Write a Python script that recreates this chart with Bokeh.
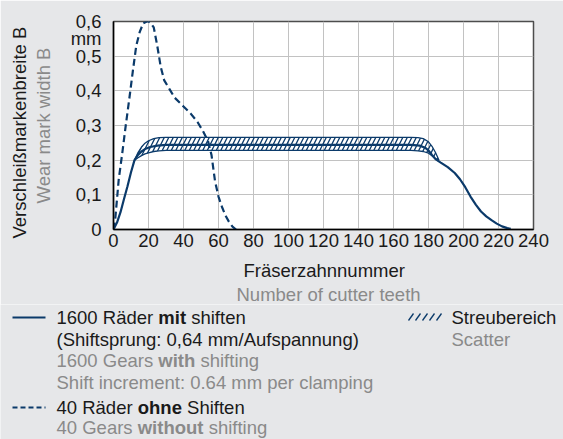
from bokeh.plotting import figure
from bokeh.models import Range1d, FixedTicker, Label, Title
from bokeh.layouts import column, row
from bokeh.embed import file_html
from bokeh.resources import INLINE

# ---------------- data ----------------
x_ticks = [0, 20, 40, 60, 80, 100, 120, 140, 160, 180, 200, 220, 240]
y_ticks = [0, 0.1, 0.2, 0.3, 0.4, 0.5, 0.55, 0.6]
y_tick_labels = ["0", "0,1", "0,2", "0,3", "0,4", "0,5", "mm", "0,6"]
grid_y = [0, 0.1, 0.2, 0.3, 0.4, 0.5, 0.6]

# 1600 gears with shifting (solid)
with_x = [0, 2, 4, 6, 8, 10, 12, 14, 16, 18, 21, 25, 30, 60, 100, 140, 170, 175,
          178, 180, 182, 184, 187, 191, 195, 198, 201, 204, 207, 210, 213, 216,
          219, 222, 225, 227]
with_y = [0, 0.02, 0.05, 0.088, 0.125, 0.165, 0.2, 0.215, 0.225, 0.232, 0.238,
          0.242, 0.244, 0.244, 0.244, 0.244, 0.244, 0.242, 0.236, 0.228, 0.215,
          0.203, 0.193, 0.18, 0.163, 0.145, 0.122, 0.095, 0.072, 0.052, 0.038,
          0.027, 0.017, 0.009, 0.004, 0.002]

# scatter band (Streubereich)
band_x = [12, 14, 16, 18, 20, 23, 26, 30, 60, 100, 140, 170, 174, 177, 180, 182, 184, 186]
band_upper = [0.2, 0.222, 0.238, 0.249, 0.256, 0.262, 0.265, 0.266, 0.266, 0.266,
              0.266, 0.266, 0.265, 0.262, 0.253, 0.24, 0.222, 0.2]
band_lower = [0.2, 0.207, 0.213, 0.218, 0.221, 0.225, 0.227, 0.228, 0.228, 0.228,
              0.228, 0.228, 0.227, 0.225, 0.22, 0.213, 0.205, 0.196]

# 40 gears without shifting (dashed)
without_x = [0, 1, 3, 5, 7, 9, 11, 13, 15, 17, 19, 20, 21, 23, 25, 27, 29, 32, 35,
             40, 44, 48, 51, 54, 56, 58, 60, 62, 64, 66, 68, 70]
without_y = [0, 0.03, 0.145, 0.22, 0.3, 0.376, 0.455, 0.53, 0.57, 0.595, 0.6, 0.6,
             0.597, 0.583, 0.53, 0.469, 0.43, 0.405, 0.38, 0.355, 0.335, 0.31,
             0.285, 0.255, 0.215, 0.14, 0.095, 0.065, 0.04, 0.022, 0.008, 0]

# ---------------- style ----------------
NAVY = "#0b3a6a"
BG = "#e6e7e9"
BLACK = "#1a1a1a"
GRAY = "#8a8a8a"
FONT = "Liberation Sans"
FSN = 18.5
FS = "%gpx" % FSN

p = figure(width=563, height=304, x_range=Range1d(0, 240), y_range=Range1d(0, 0.6),
           output_backend="svg", toolbar_location=None,
           min_border_left=113, min_border_right=30, min_border_top=21,
           min_border_bottom=73,
           background_fill_color="white", border_fill_color=BG,
           outline_line_color="#4d4d4d", outline_line_width=1.5)

p.xaxis.ticker = FixedTicker(ticks=x_ticks)
p.yaxis.ticker = FixedTicker(ticks=y_ticks)
p.xgrid.ticker = FixedTicker(ticks=x_ticks)
p.ygrid.ticker = FixedTicker(ticks=grid_y)
p.yaxis.major_label_overrides = dict(zip(y_ticks, y_tick_labels))
p.grid.grid_line_color = "#c2c2c2"
p.grid.grid_line_width = 1
for ax in (p.xaxis[0], p.yaxis[0]):
    ax.axis_line_color = "black"
    ax.axis_line_width = 1.5
    ax.major_tick_line_color = None
    ax.minor_tick_line_color = None
    ax.major_tick_out = 0
    ax.major_tick_in = 0
    ax.major_label_text_font = FONT
    ax.major_label_text_font_size = FS
    ax.major_label_text_color = BLACK
    ax.axis_label_text_font = FONT
    ax.axis_label_text_font_size = FS
    ax.axis_label_text_font_style = "normal"
p.xaxis.major_label_standoff = 4
p.yaxis.major_label_standoff = 12

p.yaxis.axis_label = "Wear mark width B"
p.yaxis.axis_label_text_color = GRAY
p.yaxis.axis_label_standoff = 14

def title(text, side, color, offset, standoff, size=FS):
    p.add_layout(Title(text=text, align="left", text_color=color, text_font=FONT,
                       text_font_size=size, text_font_style="normal",
                       standoff=standoff, offset=offset), side)

title(" ", "below", BG, 0, 5, size="1px")          # small spacer under tick labels
title("Fräserzahnnummer", "below", BLACK, 130, 1)
title("Number of cutter teeth", "below", GRAY, 123, 0)
title("Verschleißmarkenbreite B", "left", BLACK, -9, 0)

# scatter band
p.varea(x=band_x, y1=band_lower, y2=band_upper, fill_color=None,
        hatch_pattern="/", hatch_color=NAVY, hatch_weight=1.3, hatch_scale=9)
p.line(band_x, band_upper, line_color=NAVY, line_width=1.3)
p.line(band_x, band_lower, line_color=NAVY, line_width=1.3)
# curves
p.line(with_x, with_y, line_color=NAVY, line_width=2.2)
p.line(without_x, without_y, line_color=NAVY, line_width=2.2, line_dash="7 4")

# ---------------- legend panel (coordinates = page pixels) ----------------
LH = 135
p2 = figure(width=563, height=LH, x_range=Range1d(0, 563), y_range=Range1d(439, 439 - LH),
            output_backend="svg", toolbar_location=None, min_border=0,
            x_axis_location=None, y_axis_location=None,
            background_fill_color=BG, border_fill_color=BG, outline_line_color=None)
p2.xgrid.visible = False
p2.ygrid.visible = False

def lab(text, x, y, color=BLACK, style="normal"):
    p2.add_layout(Label(x=x, y=y, text=text, text_font=FONT, text_font_size=FS,
                        text_color=color, text_align="left", text_baseline="middle",
                        text_font_style=style))

# advance widths (em) of the leading pieces, Arial/Liberation metrics
def em(v):
    return v * FSN
SP = em(0.278)

r = [317, 338.5, 360, 381.5, 407, 427]
tx = 56
p2.line([12, 45], [r[0], r[0]], line_color=NAVY, line_width=2.2)
p2.line([12, 45], [r[4], r[4]], line_color=NAVY, line_width=2.2, line_dash="5 3")
hx0 = [408 + 7 * i for i in range(5)]
p2.segment(x0=hx0, y0=[r[0] + 3] * 5, x1=[h + 5 for h in hx0], y1=[r[0] - 4] * 5,
           line_color=NAVY, line_width=1.3)

x_mit = tx + em(5.225) + SP
lab("1600 Räder", tx, r[0])
lab("mit", x_mit, r[0], style="bold")
lab("shiften", x_mit + em(1.5) + SP, r[0])
lab("(Shiftsprung: 0,64 mm/Aufspannung)", tx, r[1])
lab("1600 Gears", tx, r[2], color=GRAY)
lab("with", x_mit, r[2], color=GRAY, style="bold")
lab("shifting", x_mit + em(2.0) + SP, r[2], color=GRAY)
lab("Shift increment: 0.64 mm per clamping", tx, r[3], color=GRAY)
x_ohne = tx + em(4.113) + SP
lab("40 Räder", tx, r[4])
lab("ohne", x_ohne, r[4], style="bold")
lab("Shiften", x_ohne + em(2.389) + SP, r[4])
lab("40 Gears", tx, r[5], color=GRAY)
lab("without", x_ohne, r[5], color=GRAY, style="bold")
lab("shifting", x_ohne + em(3.555) + SP, r[5], color=GRAY)
lab("Streubereich", 451, r[0])
lab("Scatter", 451, r[1], color=GRAY)

layout = column(p, row(p2), spacing=0)
open("out.html", "w").write(file_html(layout, INLINE))
